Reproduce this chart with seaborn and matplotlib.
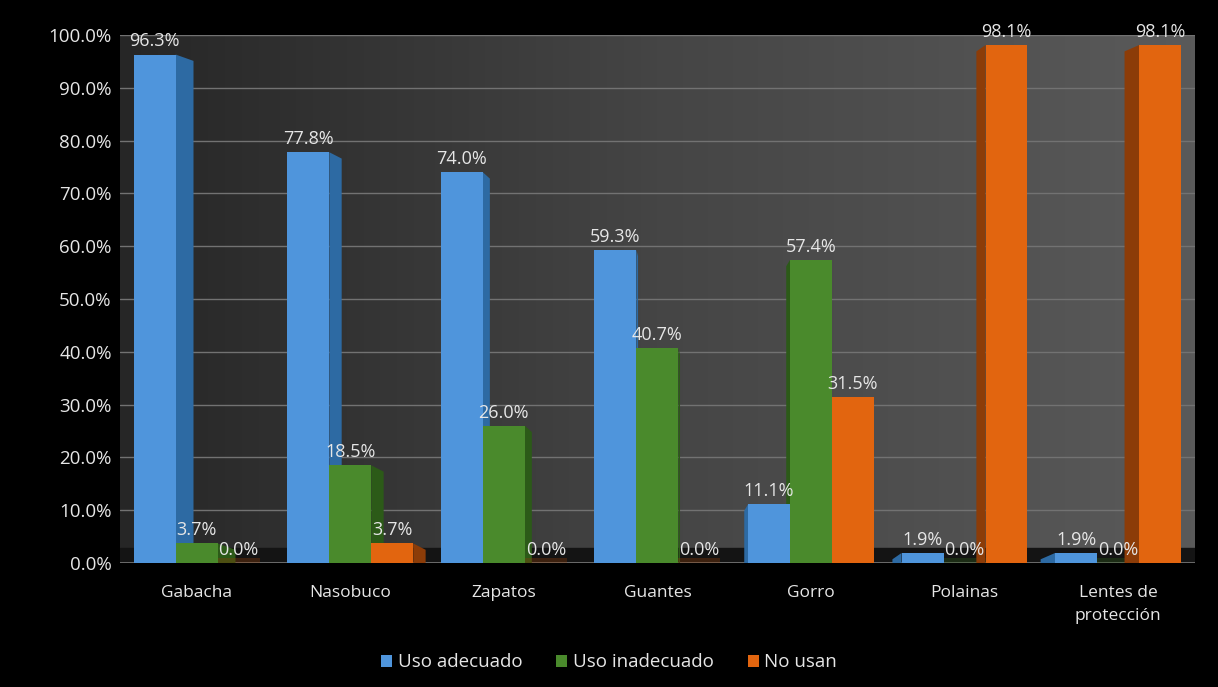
import numpy as np
import pandas as pd
import matplotlib
matplotlib.use("Agg")
import matplotlib.pyplot as plt
import seaborn as sns
from matplotlib.patches import Polygon
from matplotlib.ticker import FuncFormatter
from matplotlib.colors import LinearSegmentedColormap

categories = ["Gabacha", "Nasobuco", "Zapatos", "Guantes", "Gorro", "Polainas", "Lentes de\nprotección"]
series = ["Uso adecuado", "Uso inadecuado", "No usan"]
uso_adecuado = [96.3, 77.8, 74.0, 59.3, 11.1, 1.9, 1.9]
uso_inadecuado = [3.7, 18.5, 26.0, 40.7, 57.4, 0.0, 0.0]
no_usan = [0.0, 3.7, 0.0, 0.0, 31.5, 98.1, 98.1]
yticks = [0, 10, 20, 30, 40, 50, 60, 70, 80, 90, 100]

front_colors = ["#4f95dc", "#4a8a2c", "#e2650f"]
side_colors = ["#2d6aa3", "#2c5a18", "#8c3c08"]
text_color = "#e6e6e6"

df = pd.DataFrame({
    "cat": categories * 3,
    "serie": [s for s in series for _ in categories],
    "val": uso_adecuado + uso_inadecuado + no_usan,
})

sns.set_theme(style="dark")
plt.rcParams["font.family"] = ["Open Sans", "DejaVu Sans"]
plt.rcParams["patch.edgecolor"] = "none"

fig = plt.figure(figsize=(12.18, 6.87), dpi=100, facecolor="black")
ax = fig.add_axes([0.0985, 0.1805, 0.8825, 0.7685])
ax.set_facecolor("#3a3a3a")

# wall gradient
grad = np.linspace(0, 1, 256).reshape(1, -1)
wall = LinearSegmentedColormap.from_list("wall", ["#262626", "#454545", "#5a5a5a"])
ax.imshow(grad, extent=[0, 1, 0, 1], transform=ax.transAxes, cmap=wall,
          aspect="auto", zorder=0)

sns.barplot(data=df, x="cat", y="val", hue="serie", order=categories,
            hue_order=series, palette=front_colors, width=0.82, ax=ax,
            saturation=1, errorbar=None, zorder=3)

ax.set_ylim(0, 100)
ax.set_xlim(-0.5, len(categories) - 0.5)
ax.set_yticks(yticks)
ax.yaxis.set_major_formatter(FuncFormatter(lambda v, p: f"{v:.1f}%"))
ax.grid(axis="y", color="#727272", linewidth=1.0, zorder=1)
ax.grid(axis="x", visible=False)
ax.set_axisbelow(True)
ax.set_xlabel("")
ax.set_ylabel("")
for sp in ax.spines.values():
    sp.set_visible(False)
ax.axhspan(0, 2.8, color="#141414", zorder=1.2)
ax.axhline(0, color="#7a7a7a", linewidth=1.2, zorder=1.3)

ax.tick_params(axis="y", colors=text_color, labelsize=13.5, length=0, pad=6)
ax.tick_params(axis="x", colors=text_color, labelsize=12.5, length=0, pad=16)
for t in ax.get_xticklabels():
    t.set_linespacing(1.55)

# 3D-ish side faces & labels
all_vals = [uso_adecuado, uso_inadecuado, no_usan]
for si, cont in enumerate(ax.containers):
    for ci, patch in enumerate(cont.patches):
        x0 = patch.get_x()
        w = patch.get_width()
        h = patch.get_height()
        patch.set_zorder(3)
        patch.set_edgecolor("none")
        d = 0.035 * (3.3 - ci)
        if h > 0:
            xe = x0 + w if d > 0 else x0
            poly = Polygon([(xe, 0), (xe, h), (xe + d, h - 1.2), (xe + d, 0)],
                           closed=True, facecolor=side_colors[si],
                           edgecolor="none", zorder=2.5)
            ax.add_patch(poly)
        else:
            poly = Polygon([(x0, 0), (x0 + w, 0), (x0 + w, 1.0), (x0, 1.0)],
                           closed=True, facecolor=side_colors[si],
                           edgecolor="none", zorder=2.5, alpha=0.35)
            ax.add_patch(poly)
    labels = [f"{v:.1f}%" for v in all_vals[si]]
    ax.bar_label(cont, labels=labels, padding=3, color=text_color,
                 fontsize=13, zorder=5)

leg = ax.get_legend()
handles, labs = ax.get_legend_handles_labels()
if leg is not None:
    leg.remove()
for h in handles:
    h.set_edgecolor("none")
fig.legend(handles, labs, loc="center", bbox_to_anchor=(0.5, 0.036), ncol=3,
           frameon=False, fontsize=13.5, labelcolor=text_color,
           handlelength=0.6, handleheight=0.6, handletextpad=0.3,
           columnspacing=1.8)

fig.savefig("out.png", dpi=100, facecolor="black")
